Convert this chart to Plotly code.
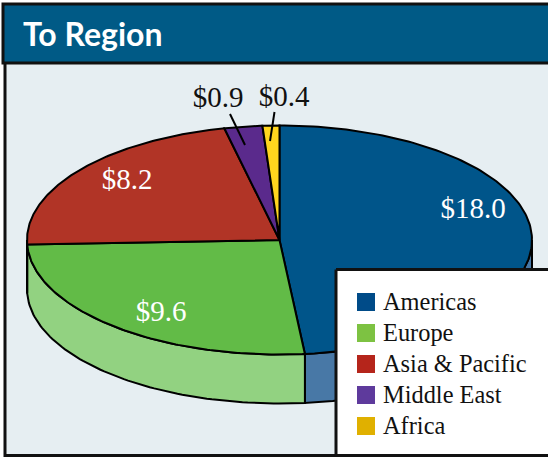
import numpy as np
import plotly.graph_objects as go

categories = ["Americas", "Europe", "Asia & Pacific", "Middle East", "Africa"]
values = [17.95, 9.64, 8.2, 0.9, 0.4]
value_labels = ["$18.0", "$9.6", "$8.2", "$0.9", "$0.4"]
top_colors = ["#00558a", "#62bb47", "#b13426", "#5a2a8c", "#ffd51e"]
side_colors = ["#4878a6", "#92d281", "#c9705f", "#8a6ab0", "#ffe26e"]
legend_colors = ["#004b88", "#7dc242", "#b5251b", "#5e3a9c", "#e0b000"]
label_xy = [(473, 211), (161, 314), (127, 182), (218, 100), (284, 99)]
legend_y = [302, 333, 364, 395, 426]
legend_text_y = [304, 335, 366, 397, 428]

CX, CY, RX, RY, DEPTH = 279.5, 240, 252.5, 114.5, 49
SERIF = "Liberation Serif"


def ex(t):
    return CX + RX * np.sin(t)


def ey(t):
    return CY - RY * np.cos(t)


fig = go.Figure()
cum = np.concatenate([[0], np.cumsum(values)]) / sum(values) * 2 * np.pi

# visible side wall: only the front half of the ellipse
for i, c in enumerate(categories):
    a = max(cum[i], np.pi / 2)
    b = min(cum[i + 1], 3 * np.pi / 2)
    if b <= a:
        continue
    t = np.linspace(a, b, 80)
    xs = np.concatenate([ex(t), ex(t[::-1])])
    ys = np.concatenate([ey(t), ey(t[::-1]) + DEPTH])
    fig.add_trace(go.Scatter(x=np.append(xs, xs[0]), y=np.append(ys, ys[0]), mode="lines",
                             fill="toself", fillcolor=side_colors[i],
                             line=dict(color="black", width=2), showlegend=False, hoverinfo="skip"))

# top face wedges
for i, c in enumerate(categories):
    t = np.linspace(cum[i], cum[i + 1], 160)
    xs = np.concatenate([[CX], ex(t), [CX]])
    ys = np.concatenate([[CY], ey(t), [CY]])
    fig.add_trace(go.Scatter(x=xs, y=ys, mode="lines", fill="toself", fillcolor=top_colors[i],
                             line=dict(color="black", width=2), showlegend=False,
                             name=c, text=value_labels[i], hoverinfo="name+text"))

# leader lines for the two small slices
fig.add_trace(go.Scatter(x=[230, 245], y=[114, 145], mode="lines", line=dict(color="black", width=2),
                         showlegend=False, hoverinfo="skip"))
fig.add_trace(go.Scatter(x=[274.5, 270], y=[112, 141], mode="lines", line=dict(color="black", width=2),
                         showlegend=False, hoverinfo="skip"))

# value labels
fig.add_trace(go.Scatter(x=[p[0] for p in label_xy], y=[p[1] for p in label_xy], mode="text",
                         text=value_labels, textposition="middle center",
                         textfont=dict(family=SERIF, size=29,
                                       color=["white", "white", "white", "#111111", "#111111"]),
                         showlegend=False, hoverinfo="skip"))

# legend panel
fig.add_trace(go.Scatter(x=[336, 560, 560, 336, 336], y=[269.5, 269.5, 455.5, 455.5, 269.5],
                         mode="lines", fill="toself", fillcolor="white",
                         line=dict(color="#111111", width=3), showlegend=False, hoverinfo="skip"))
# legend swatches and names
fig.add_trace(go.Scatter(x=[366] * len(categories), y=legend_y, mode="markers",
                         marker=dict(symbol="square", size=18, color=legend_colors),
                         showlegend=False, hoverinfo="skip"))
fig.add_trace(go.Scatter(x=[383] * len(categories), y=legend_text_y, mode="text", text=categories,
                         textposition="middle right",
                         textfont=dict(family=SERIF, size=24.4, color="#111111"),
                         showlegend=False, hoverinfo="skip"))

shapes = [
    dict(type="rect", x0=5, x1=560, y0=60, y1=455.5, fillcolor="#e6eef2",
         line=dict(color="#111111", width=3), layer="below"),
    dict(type="rect", x0=3, x1=560, y0=4, y1=63, fillcolor="#005a86",
         line=dict(color="#111111", width=3), layer="above"),
]

fig.update_layout(
    width=548, height=461, autosize=False,
    margin=dict(l=0, r=0, t=0, b=0),
    paper_bgcolor="white", plot_bgcolor="rgba(0,0,0,0)",
    xaxis=dict(range=[0, 548], visible=False, fixedrange=True),
    yaxis=dict(range=[461, 0], visible=False, fixedrange=True),
    shapes=shapes,
    annotations=[dict(x=21, y=33, xref="x", yref="y", xanchor="left", yanchor="middle",
                      text="<b>To Region</b>", showarrow=False,
                      font=dict(family="Lato", size=32, color="white"))],
    showlegend=False,
)

fig.write_html("out.html", config={"displayModeBar": False},
               post_script="document.body.style.margin='0';document.body.style.overflow='hidden';")
